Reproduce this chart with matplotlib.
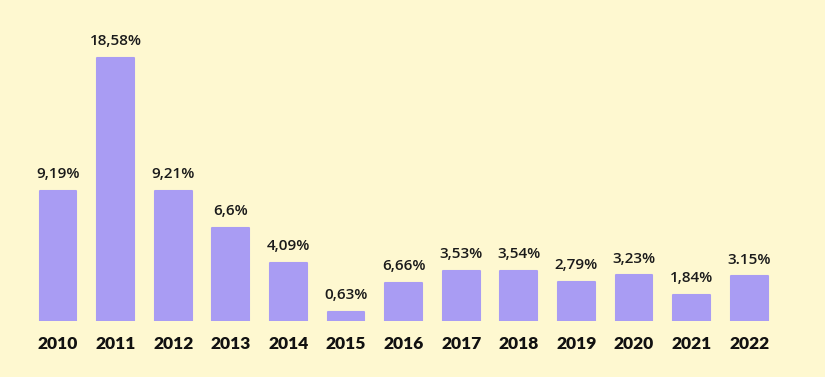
import matplotlib.pyplot as plt

years = ['2010', '2011', '2012', '2013', '2014', '2015', '2016',
         '2017', '2018', '2019', '2020', '2021', '2022']
heights = [9.19, 18.58, 9.21, 6.6, 4.09, 0.63, 2.7, 3.53, 3.54, 2.79, 3.23, 1.84, 3.15]
labels = ['9,19%', '18,58%', '9,21%', '6,6%', '4,09%', '0,63%', '6,66%',
          '3,53%', '3,54%', '2,79%', '3,23%', '1,84%', '3.15%']

bg = '#FEF8D0'
bar_color = '#A99CF3'

fig = plt.figure(figsize=(8.25, 3.77), dpi=100, facecolor=bg)
ax = fig.add_axes([0, 56 / 377, 1, 321 / 377], facecolor=bg)

x = list(range(len(years)))
ax.bar(x, heights, width=0.64, color=bar_color, edgecolor=bar_color,
       linewidth=1.5, joinstyle='round')

# Etiquetas de valores encima de cada barra
for xi, h, lab in zip(x, heights, labels):
    ax.annotate(lab, (xi, h), xytext=(0, 7), textcoords='offset points',
                ha='center', va='bottom', fontsize=11, family='Open Sans',
                fontweight='semibold', color='#1a1a1a')

ax.set_xlim(-58 / 57.6, (825 - 58) / 57.6)
ax.set_ylim(0, 321 / 14.15)

ax.set_xticks(x)
ax.set_xticklabels(years, fontsize=12.5, family='Lato', fontweight='heavy', color='#111111')
ax.tick_params(axis='x', length=0, pad=11)
ax.set_yticks([])
for s in ax.spines.values():
    s.set_visible(False)

plt.savefig('out.png', dpi=100, facecolor=bg)
